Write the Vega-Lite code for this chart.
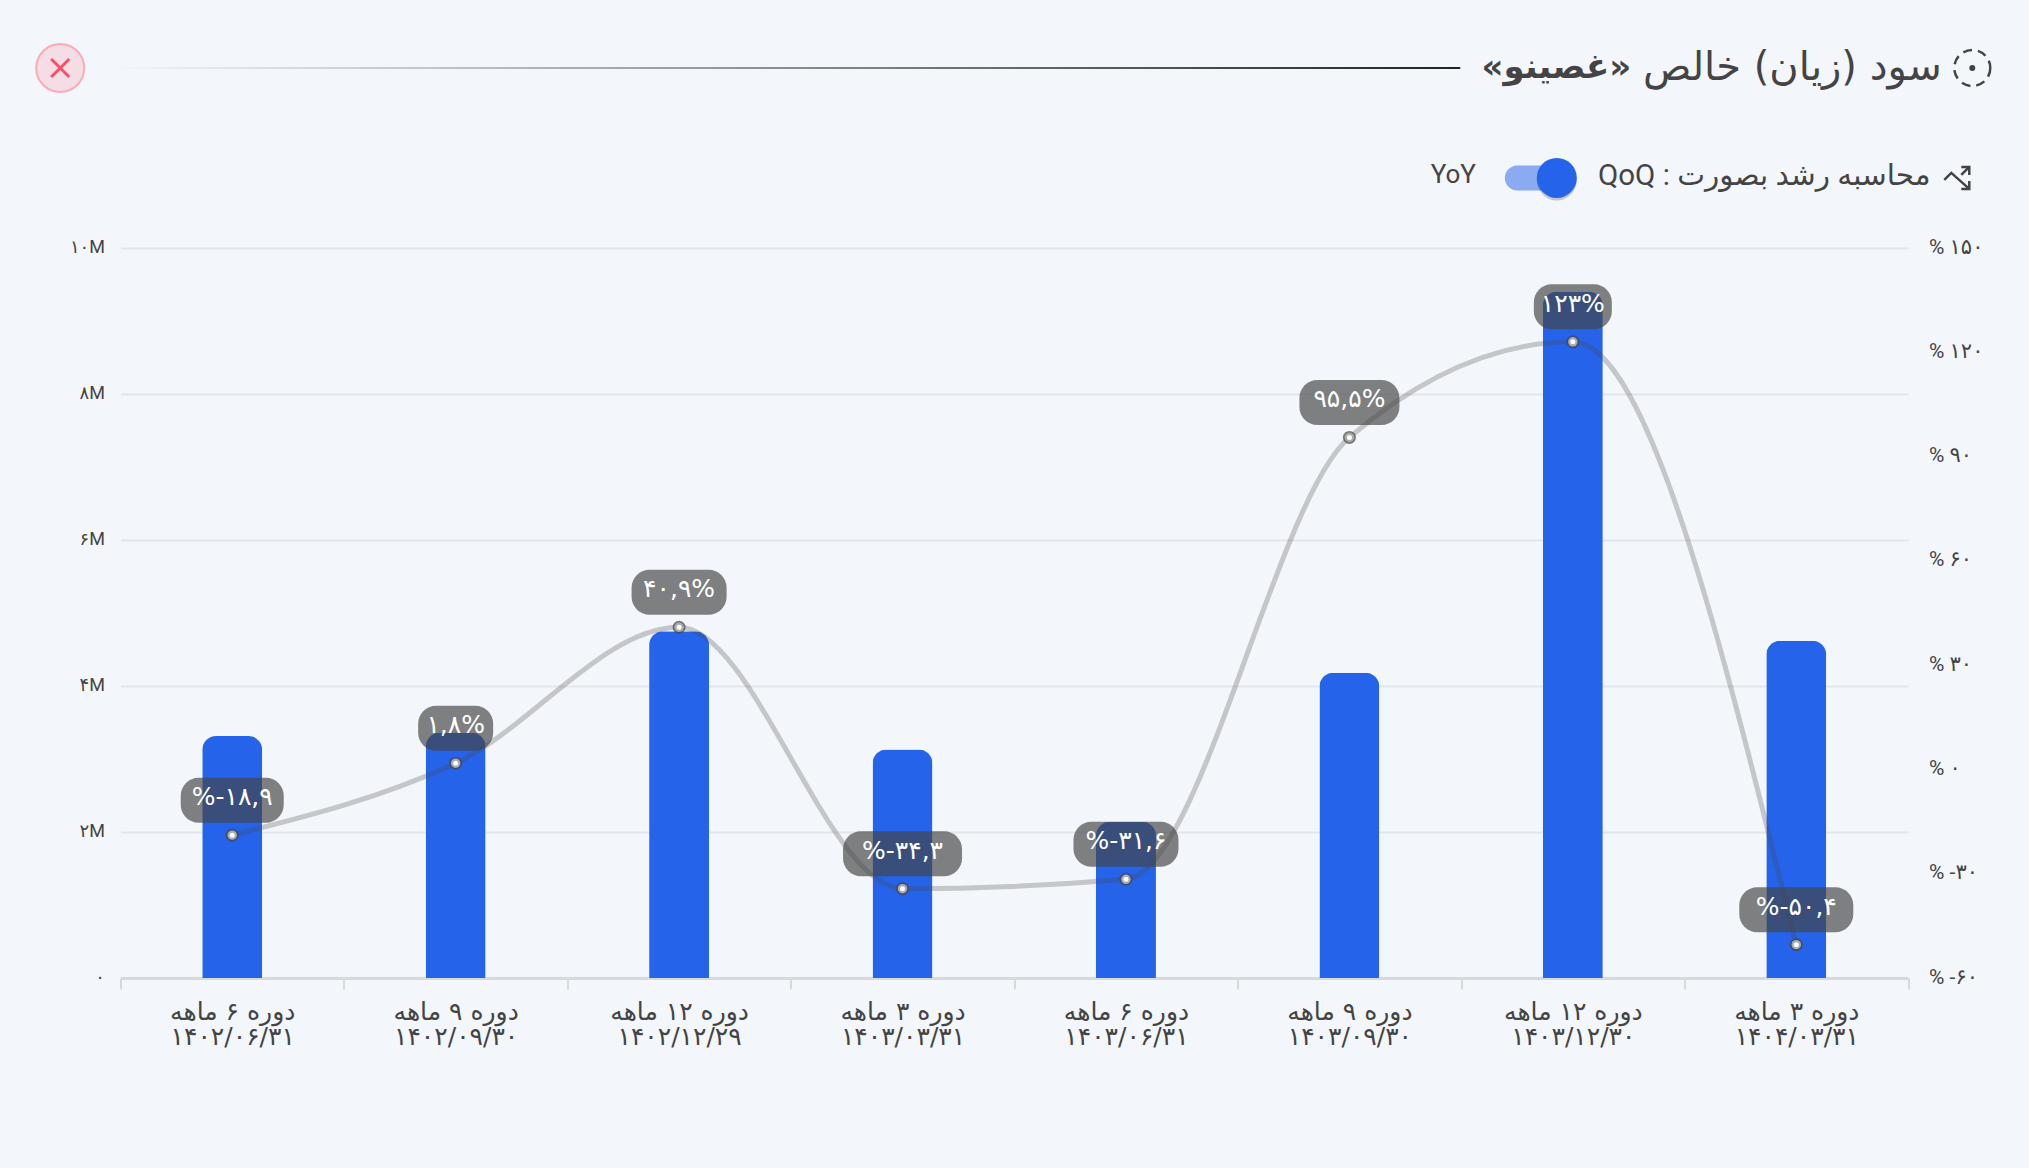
{"$schema":"https://vega.github.io/schema/vega-lite/v6.json","width":1787.5,"height":730,"autosize":{"type":"none"},"padding":{"left":120.5,"top":248,"right":121,"bottom":190},"background":"#f3f6fb","config":{"view":{"stroke":null},"font":"Roboto, DejaVu Sans","text":{"font":"Roboto, DejaVu Sans"}},
"datasets":{"main":[
{"label":"دوره ۶ ماهه\n۱۴۰۲/۰۶/۳۱","profit":3315000,"growth":-18.9,"growthLabel":"%-۱۸,۹"},
{"label":"دوره ۹ ماهه\n۱۴۰۲/۰۹/۳۰","profit":3360000,"growth":1.8,"growthLabel":"۱,۸%"},
{"label":"دوره ۱۲ ماهه\n۱۴۰۲/۱۲/۲۹","profit":4750000,"growth":40.9,"growthLabel":"۴۰,۹%"},
{"label":"دوره ۳ ماهه\n۱۴۰۳/۰۳/۳۱","profit":3130000,"growth":-34.3,"growthLabel":"%-۳۴,۳"},
{"label":"دوره ۶ ماهه\n۱۴۰۳/۰۶/۳۱","profit":2140000,"growth":-31.6,"growthLabel":"%-۳۱,۶"},
{"label":"دوره ۹ ماهه\n۱۴۰۳/۰۹/۳۰","profit":4180000,"growth":95.5,"growthLabel":"۹۵,۵%"},
{"label":"دوره ۱۲ ماهه\n۱۴۰۳/۱۲/۳۰","profit":9400000,"growth":123,"growthLabel":"۱۲۳%"},
{"label":"دوره ۳ ماهه\n۱۴۰۴/۰۳/۳۱","profit":4620000,"growth":-50.4,"growthLabel":"%-۵۰,۴"}]},
"data":{"name":"main"},
"encoding":{"x":{"field":"label","type":"nominal","sort":null,"title":null,"scale":{"type":"band","paddingInner":0,"paddingOuter":0},"axis":{"labelExpr":"split(datum.label,'\\n')","labelAngle":0,"labelFontSize":25,"labelColor":"#444444","labelFont":"DejaVu Sans","labelLineHeight":25.5,"labelPadding":10,"labelBaseline":"top","tickBand":"extent","tickSize":11,"tickWidth":2,"tickColor":"#d8d9dc","domainColor":"#d8d9dc","domainWidth":3,"grid":false}}},
"layer":[
{"mark":{"type":"bar","size":60,"color":"#2563eb","cornerRadiusTopLeft":14,"cornerRadiusTopRight":14},"encoding":{"y":{"field":"profit","type":"quantitative","title":null,"scale":{"domain":[0,10000000],"nice":false},"axis":{"orient":"left","values":[0,2000000,4000000,6000000,8000000,10000000],"labelExpr":"{'0':'۰','2000000':'۲M','4000000':'۴M','6000000':'۶M','8000000':'۸M','10000000':'۱۰M'}[datum.value]","labelFontSize":18,"labelColor":"#444444","labelPadding":16,"labelOffset":-1,"domain":false,"ticks":false,"grid":true,"gridColor":"#e3e5e9","gridWidth":2}}}},
{"mark":{"type":"line","interpolate":"monotone","stroke":"#454545","strokeOpacity":0.27,"strokeWidth":5},"encoding":{"y":{"field":"growth","type":"quantitative","title":null,"scale":{"domain":[-60,150],"nice":false},"axis":{"orient":"right","values":[-60,-30,0,30,60,90,120,150],"labelExpr":"{'-60':'% -۶۰','-30':'% -۳۰','0':'% ۰','30':'% ۳۰','60':'% ۶۰','90':'% ۹۰','120':'% ۱۲۰','150':'% ۱۵۰'}[datum.value]","labelFontSize":21,"labelColor":"#444444","labelPadding":20.5,"labelOffset":-1,"domain":false,"ticks":false,"grid":false}}}},
{"mark":{"type":"point","shape":"circle","filled":true,"size":169,"color":"#454545","opacity":0.7},"encoding":{"y":{"field":"growth","type":"quantitative","scale":{"domain":[-60,150],"nice":false},"axis":null}}},
{"mark":{"type":"point","shape":"circle","filled":true,"size":90,"color":"#ababab","opacity":1},"encoding":{"y":{"field":"growth","type":"quantitative","scale":{"domain":[-60,150],"nice":false},"axis":null}}},
{"mark":{"type":"point","shape":"circle","filled":true,"size":25,"color":"#ffffff","opacity":1},"encoding":{"y":{"field":"growth","type":"quantitative","scale":{"domain":[-60,150],"nice":false},"axis":null}}},
{"mark":{"type":"point","filled":true,"color":"#454545","opacity":0.67,"size":4,"yOffset":-35},"encoding":{"y":{"field":"growth","type":"quantitative","scale":{"domain":[-60,150],"nice":false},"axis":null},"shape":{"field":"growthLabel","type":"nominal","legend":null,"scale":{"domain":["%-۱۸,۹","۱,۸%","۴۰,۹%","%-۳۴,۳","%-۳۱,۶","۹۵,۵%","۱۲۳%","%-۵۰,۴"],"range":[
"M-33.5,-22.5H33.5A18,18 0 0 1 51.5,-4.5V4.5A18,18 0 0 1 33.5,22.5H-33.5A18,18 0 0 1 -51.5,4.5V-4.5A18,18 0 0 1 -33.5,-22.5Z",
"M-19.5,-22.5H19.5A18,18 0 0 1 37.5,-4.5V4.5A18,18 0 0 1 19.5,22.5H-19.5A18,18 0 0 1 -37.5,4.5V-4.5A18,18 0 0 1 -19.5,-22.5Z",
"M-29.5,-22.5H29.5A18,18 0 0 1 47.5,-4.5V4.5A18,18 0 0 1 29.5,22.5H-29.5A18,18 0 0 1 -47.5,4.5V-4.5A18,18 0 0 1 -29.5,-22.5Z",
"M-41.5,-22.5H41.5A18,18 0 0 1 59.5,-4.5V4.5A18,18 0 0 1 41.5,22.5H-41.5A18,18 0 0 1 -59.5,4.5V-4.5A18,18 0 0 1 -41.5,-22.5Z",
"M-34.5,-22.5H34.5A18,18 0 0 1 52.5,-4.5V4.5A18,18 0 0 1 34.5,22.5H-34.5A18,18 0 0 1 -52.5,4.5V-4.5A18,18 0 0 1 -34.5,-22.5Z",
"M-32,-22.5H32A18,18 0 0 1 50,-4.5V4.5A18,18 0 0 1 32,22.5H-32A18,18 0 0 1 -50,4.5V-4.5A18,18 0 0 1 -32,-22.5Z",
"M-21,-22.5H21A18,18 0 0 1 39,-4.5V4.5A18,18 0 0 1 21,22.5H-21A18,18 0 0 1 -39,4.5V-4.5A18,18 0 0 1 -21,-22.5Z",
"M-39,-22.5H39A18,18 0 0 1 57,-4.5V4.5A18,18 0 0 1 39,22.5H-39A18,18 0 0 1 -57,4.5V-4.5A18,18 0 0 1 -39,-22.5Z"]}}}},
{"mark":{"type":"text","color":"#ffffff","fontSize":25,"font":"DejaVu Sans","yOffset":-38},"encoding":{"y":{"field":"growth","type":"quantitative","scale":{"domain":[-60,150],"nice":false},"axis":null},"text":{"field":"growthLabel"}}},
{"data":{"values":[{"t":"سود (زیان) خالص"}]},"mark":{"type":"text","color":"#444444","fontSize":40,"font":"DejaVu Sans","align":"center","xOffset":-4},"encoding":{"x":{"datum":"دوره ۳ ماهه\n۱۴۰۴/۰۳/۳۱"},"y":{"datum":12466000,"scale":{"domain":[0,10000000],"nice":false},"axis":null},"text":{"field":"t"}}},
{"data":{"values":[{"t":"«غصینو»"}]},"mark":{"type":"text","color":"#444444","fontSize":34,"fontWeight":"bold","font":"DejaVu Sans","align":"center","xOffset":-240},"encoding":{"x":{"datum":"دوره ۳ ماهه\n۱۴۰۴/۰۳/۳۱"},"y":{"datum":12466000,"scale":{"domain":[0,10000000],"nice":false},"axis":null},"text":{"field":"t"}}},
{"data":{"values":[{"t":"\u202Bمحاسبه رشد بصورت : QoQ\u202C"}]},"mark":{"type":"text","color":"#444444","fontSize":29.5,"font":"Roboto, DejaVu Sans","align":"center","xOffset":-32},"encoding":{"x":{"datum":"دوره ۳ ماهه\n۱۴۰۴/۰۳/۳۱"},"y":{"datum":10990000,"scale":{"domain":[0,10000000],"nice":false},"axis":null},"text":{"field":"t"}}},
{"data":{"values":[{"t":"YoY"}]},"mark":{"type":"text","color":"#444444","fontSize":26,"font":"Roboto","align":"center","xOffset":-343},"encoding":{"x":{"datum":"دوره ۳ ماهه\n۱۴۰۴/۰۳/۳۱"},"y":{"datum":11000000,"scale":{"domain":[0,10000000],"nice":false},"axis":null},"text":{"field":"t"}}},
{"data":{"values":[{"k":"track"}]},"mark":{"type":"point","shape":"M-20,-12.5H20A12.5,12.5 0 0 1 20,12.5H-20A12.5,12.5 0 0 1 -20,-12.5Z","filled":true,"color":"#8aaaf2","opacity":1,"size":4,"xOffset":-259},"encoding":{"x":{"datum":"دوره ۳ ماهه\n۱۴۰۴/۰۳/۳۱"},"y":{"datum":10960000,"scale":{"domain":[0,10000000],"nice":false},"axis":null}}},
{"data":{"values":[{"k":"knobShadow"}]},"mark":{"type":"point","shape":"circle","filled":true,"color":"#333333","opacity":0.25,"size":1600,"xOffset":-239.5,"yOffset":2.5},"encoding":{"x":{"datum":"دوره ۳ ماهه\n۱۴۰۴/۰۳/۳۱"},"y":{"datum":10960000,"scale":{"domain":[0,10000000],"nice":false},"axis":null}}},
{"data":{"values":[{"k":"knob"}]},"mark":{"type":"point","shape":"circle","filled":true,"color":"#2563eb","opacity":1,"size":1600,"xOffset":-239.5},"encoding":{"x":{"datum":"دوره ۳ ماهه\n۱۴۰۴/۰۳/۳۱"},"y":{"datum":10960000,"scale":{"domain":[0,10000000],"nice":false},"axis":null}}},
{"data":{"values":[{"k":"trend"}]},"mark":{"type":"point","shape":"M-13,2L-6,-5L12,11M12,3V11H4M12,-3V-11H4M12,-11L4,-3","filled":false,"stroke":"#444444","strokeWidth":2.5,"opacity":1,"size":4,"xOffset":161},"encoding":{"x":{"datum":"دوره ۳ ماهه\n۱۴۰۴/۰۳/۳۱"},"y":{"datum":10960000,"scale":{"domain":[0,10000000],"nice":false},"axis":null}}},
{"data":{"values":[{"k":"titleRing"}]},"mark":{"type":"point","shape":"circle","filled":false,"stroke":"#444444","strokeWidth":2.5,"strokeDash":[9,6],"opacity":1,"size":1296,"xOffset":176},"encoding":{"x":{"datum":"دوره ۳ ماهه\n۱۴۰۴/۰۳/۳۱"},"y":{"datum":12466000,"scale":{"domain":[0,10000000],"nice":false},"axis":null}}},
{"data":{"values":[{"k":"titleDot"}]},"mark":{"type":"point","shape":"circle","filled":true,"color":"#444444","opacity":1,"size":36,"xOffset":176},"encoding":{"x":{"datum":"دوره ۳ ماهه\n۱۴۰۴/۰۳/۳۱"},"y":{"datum":12466000,"scale":{"domain":[0,10000000],"nice":false},"axis":null}}},
{"data":{"values":[{"k":"titleLine"}]},"mark":{"type":"point","shape":"M-675,-1H675V1H-675Z","filled":true,"opacity":1,"size":4,"fill":{"gradient":"linear","x1":0,"x2":1,"y1":0,"y2":0,"stops":[{"offset":0,"color":"rgba(34,34,34,0)"},{"offset":1,"color":"#222222"}]},"xOffset":-1011},"encoding":{"x":{"datum":"دوره ۳ ماهه\n۱۴۰۴/۰۳/۳۱"},"y":{"datum":12466000,"scale":{"domain":[0,10000000],"nice":false},"axis":null}}},
{"data":{"values":[{"k":"closeCircle"}]},"mark":{"type":"point","shape":"circle","filled":true,"fill":"#f5dde6","stroke":"#fdaab5","strokeWidth":2,"opacity":1,"size":2304,"xOffset":-172},"encoding":{"x":{"datum":"دوره ۶ ماهه\n۱۴۰۲/۰۶/۳۱"},"y":{"datum":12466000,"scale":{"domain":[0,10000000],"nice":false},"axis":null}}},
{"data":{"values":[{"k":"closeX"}]},"mark":{"type":"point","shape":"M-9,-9L9,9M-9,9L9,-9","filled":false,"stroke":"#ff4d67","strokeWidth":3,"opacity":1,"size":4,"xOffset":-172},"encoding":{"x":{"datum":"دوره ۶ ماهه\n۱۴۰۲/۰۶/۳۱"},"y":{"datum":12466000,"scale":{"domain":[0,10000000],"nice":false},"axis":null}}}
],"resolve":{"scale":{"y":"independent"},"axis":{"y":"independent"}}}
